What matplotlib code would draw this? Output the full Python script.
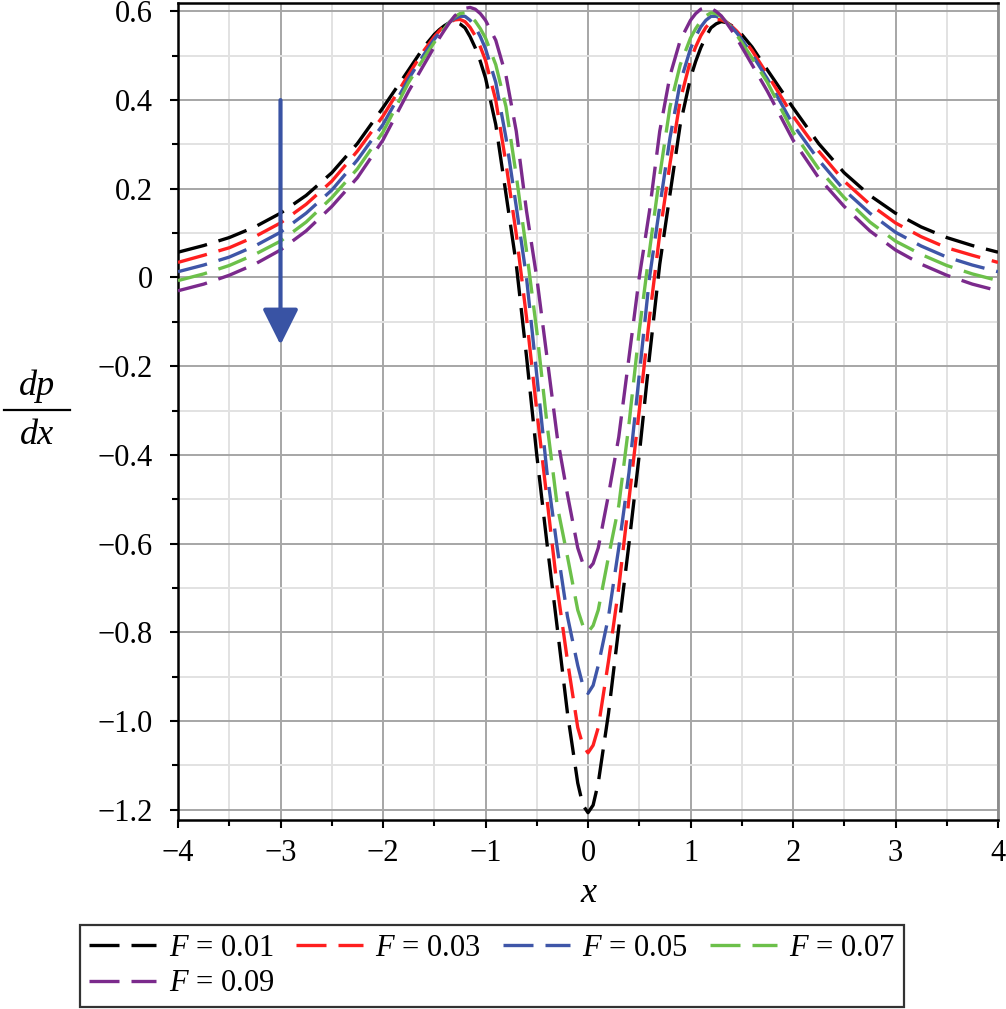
import matplotlib
matplotlib.use("Agg")
import matplotlib.pyplot as plt
from matplotlib.lines import Line2D

plt.rcParams["font.family"] = "Liberation Serif"
plt.rcParams["mathtext.fontset"] = "custom"
plt.rcParams["mathtext.rm"] = "Liberation Serif"
plt.rcParams["mathtext.it"] = "Liberation Serif:italic"

# values
x_vals = [-4, -3.75, -3.5, -3.25, -3, -2.75, -2.5, -2.25, -2, -1.75, -1.6, -1.5,
          -1.45, -1.4, -1.35, -1.3, -1.25, -1.2, -1.15, -1.1, -1.05, -1.0,
          -0.9, -0.8, -0.7, -0.6, -0.5, -0.4, -0.3, -0.2, -0.1, -0.05,
          0,
          0.05, 0.1, 0.2, 0.3, 0.4, 0.5, 0.6, 0.7, 0.8, 0.9,
          1.0, 1.05, 1.1, 1.15, 1.2, 1.25, 1.3, 1.35, 1.4, 1.45,
          1.5, 1.6, 1.75, 2, 2.25, 2.5, 2.75, 3, 3.25, 3.5, 3.75, 4]

f001 = [0.057, 0.072, 0.090, 0.114, 0.145, 0.185, 0.236, 0.302, 0.383, 0.468, 0.520, 0.548,
        0.559, 0.568, 0.575, 0.577, 0.572, 0.563, 0.543, 0.518, 0.487, 0.450,
        0.345, 0.188, 0.030, -0.178, -0.400, -0.600, -0.790, -0.983, -1.140, -1.190,
        -1.207,
        -1.190, -1.140, -0.983, -0.790, -0.600, -0.400, -0.178, 0.030, 0.188, 0.345,
        0.450, 0.487, 0.518, 0.543, 0.563, 0.572, 0.577, 0.575, 0.568, 0.559,
        0.548, 0.520, 0.468, 0.383, 0.302, 0.236, 0.185, 0.145, 0.114, 0.090, 0.072, 0.057]
f003 = [0.034, 0.050, 0.067, 0.092, 0.123, 0.165, 0.217, 0.285, 0.364, 0.458, 0.512, 0.543,
        0.556, 0.567, 0.576, 0.581, 0.582, 0.577, 0.564, 0.545, 0.520, 0.490,
        0.400, 0.257, 0.098, -0.090, -0.300, -0.500, -0.700, -0.865, -1.015, -1.055,
        -1.072,
        -1.055, -1.015, -0.865, -0.700, -0.500, -0.300, -0.090, 0.098, 0.257, 0.400,
        0.490, 0.520, 0.545, 0.564, 0.577, 0.582, 0.581, 0.576, 0.567, 0.556,
        0.543, 0.512, 0.458, 0.364, 0.285, 0.217, 0.165, 0.123, 0.092, 0.067, 0.050, 0.034]
f005 = [0.013, 0.028, 0.046, 0.071, 0.102, 0.145, 0.197, 0.265, 0.345, 0.448, 0.503, 0.537,
        0.552, 0.565, 0.576, 0.584, 0.589, 0.589, 0.580, 0.565, 0.543, 0.516,
        0.440, 0.315, 0.160, 0.000, -0.220, -0.440, -0.610, -0.765, -0.875, -0.920,
        -0.938,
        -0.920, -0.875, -0.765, -0.610, -0.440, -0.220, 0.000, 0.160, 0.315, 0.440,
        0.516, 0.543, 0.565, 0.580, 0.589, 0.589, 0.584, 0.576, 0.565, 0.552,
        0.537, 0.503, 0.448, 0.345, 0.265, 0.197, 0.145, 0.102, 0.071, 0.046, 0.028, 0.013]
f007 = [-0.007, 0.008, 0.027, 0.052, 0.082, 0.125, 0.180, 0.245, 0.328, 0.440, 0.495, 0.530,
        0.547, 0.562, 0.576, 0.588, 0.595, 0.597, 0.590, 0.578, 0.561, 0.540,
        0.480, 0.385, 0.230, 0.060, -0.120, -0.330, -0.515, -0.630, -0.750, -0.785,
        -0.800,
        -0.785, -0.750, -0.630, -0.515, -0.330, -0.120, 0.060, 0.230, 0.385, 0.480,
        0.540, 0.561, 0.578, 0.590, 0.597, 0.595, 0.588, 0.576, 0.562, 0.547,
        0.530, 0.495, 0.440, 0.328, 0.245, 0.180, 0.125, 0.082, 0.052, 0.027, 0.008, -0.007]
f009 = [-0.030, -0.015, 0.005, 0.030, 0.062, 0.105, 0.160, 0.225, 0.310, 0.420, 0.480, 0.520,
        0.540, 0.558, 0.575, 0.590, 0.600, 0.607, 0.609, 0.605, 0.595, 0.580,
        0.535, 0.455, 0.330, 0.150, 0.000, -0.180, -0.360, -0.490, -0.610, -0.645,
        -0.659,
        -0.645, -0.610, -0.490, -0.360, -0.180, 0.000, 0.150, 0.330, 0.455, 0.535,
        0.580, 0.595, 0.605, 0.609, 0.607, 0.600, 0.590, 0.575, 0.558, 0.540,
        0.520, 0.480, 0.420, 0.310, 0.225, 0.160, 0.105, 0.062, 0.030, 0.005, -0.015, -0.030]

series = [f001, f003, f005, f007, f009]
labels = [r"$F$ = 0.01", r"$F$ = 0.03", r"$F$ = 0.05", r"$F$ = 0.07", r"$F$ = 0.09"]
colors = ["#000000", "#ff1f1f", "#3f56a8", "#6cc04a", "#7b2a8c"]

x_ticks = [-4, -3, -2, -1, 0, 1, 2, 3, 4]
x_tick_labels = ["\u22124", "\u22123", "\u22122", "\u22121", "0", "1", "2", "3", "4"]
y_ticks = [-1.2, -1.0, -0.8, -0.6, -0.4, -0.2, 0, 0.2, 0.4, 0.6]
y_tick_labels = ["\u22121.2", "\u22121.0", "\u22120.8", "\u22120.6", "\u22120.4", "\u22120.2",
                 "0", "0.2", "0.4", "0.6"]

W, H = 1006, 1009
fig = plt.figure(figsize=(W / 100, H / 100), dpi=100)
ax = fig.add_axes([178 / W, 1 - 820 / H, 820 / W, 817 / H])

handles = []
for ys, lab, col in zip(series, labels, colors):
    ln, = ax.plot(x_vals, ys, color=col, lw=2.4, ls=(0, (9, 3.6)), label=lab, zorder=3)
    handles.append(ln)

# arrow showing increasing F
ax.annotate("", xy=(-3, -0.152), xytext=(-3, 0.40),
            arrowprops=dict(arrowstyle="-|>,head_length=1.0,head_width=0.5",
                            color="#3953a4", lw=3, mutation_scale=22,
                            shrinkA=0, shrinkB=0), zorder=4)

ax.set_xlim(-4, 4)
ax.set_ylim(-1.2235, 0.619)
ax.set_xticks(x_ticks)
ax.set_xticklabels(x_tick_labels)
ax.set_xticks([v + 0.5 for v in x_ticks[:-1]], minor=True)
ax.set_yticks(y_ticks)
ax.set_yticklabels(y_tick_labels)
ax.set_yticks([v + 0.1 for v in y_ticks[:-1]], minor=True)

ax.set_axisbelow(True)
ax.grid(which="major", color="#a6a6a6", lw=1.4)
ax.grid(which="minor", color="#e2e2e2", lw=1.4)

ax.tick_params(which="both", direction="out", width=1.5, labelsize=22, color="black")
ax.tick_params(which="major", length=6)
ax.tick_params(which="minor", length=4)
ax.tick_params(axis="y", which="both", right=False, pad=12)
ax.tick_params(axis="x", which="both", top=False, pad=8)

for side in ("left", "bottom", "top"):
    ax.spines[side].set_color("black")
    ax.spines[side].set_linewidth(1.8)
ax.spines["right"].set_color("#8c8c8c")
ax.spines["right"].set_linewidth(2)

# axis labels
fig.text(588 / W, 1 - 893 / H, "x", style="italic", fontsize=26, ha="center", va="center")
fig.text(37 / W, 1 - 386 / H, "dp", style="italic", fontsize=26, ha="center", va="center")
fig.text(37 / W, 1 - 436 / H, "dx", style="italic", fontsize=26, ha="center", va="center")
fig.add_artist(Line2D([4 / W, 70 / W], [1 - 410 / H, 1 - 410 / H], color="black", lw=1.6))

# legend fills column by column, so order entries to read row-wise
order = [0, 4, 1, 2, 3]
leg = fig.legend(handles=[handles[i] for i in order], loc="upper left",
                 bbox_to_anchor=(80 / W, 1 - 925 / H),
                 ncol=4, fontsize=22, frameon=True, fancybox=False, edgecolor="black",
                 handlelength=2.2, handletextpad=0.4, columnspacing=0.72,
                 labelspacing=0.2, borderpad=0.3, borderaxespad=0)
leg.get_frame().set_linewidth(1.6)

fig.savefig("out.png", dpi=100, facecolor="white")
